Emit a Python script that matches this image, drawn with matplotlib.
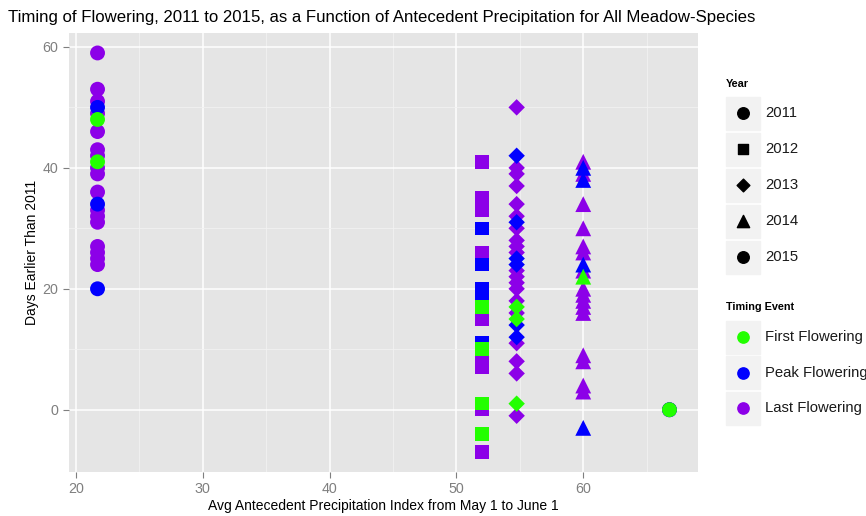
import matplotlib
matplotlib.use('Agg')
import matplotlib.pyplot as plt
from matplotlib.patches import Rectangle

plt.rcParams['font.family'] = ['Liberation Sans', 'DejaVu Sans']

# precipitation index per year (x position of each column)
years = [2011, 2012, 2013, 2014, 2015]
precip_index = [21.7, 52.0, 54.75, 60.0, 66.8]

# days earlier than 2011, per timing event and year
first_flowering = {
    2011: [48, 41],
    2012: [17, 10, 1, -4],
    2013: [17, 15, 1],
    2014: [22],
    2015: [0],
}
peak_flowering = {
    2011: [50, 34, 20],
    2012: [30, 24, 20, 18, 11],
    2013: [42, 31, 25, 24, 14, 12],
    2014: [40, 38, 24, -3],
    2015: [0],
}
last_flowering = {
    2011: [59, 53, 51, 49, 46, 43, 42, 40, 39, 36, 33, 32, 31, 27, 26, 25, 24],
    2012: [41, 35, 33, 26, 16, 15, 8, 7, 0, -7],
    2013: [50, 40, 39, 37, 34, 32, 30, 28, 27, 26, 23, 22, 21, 20, 18, 16, 11, 8, 6, -1],
    2014: [41, 39, 34, 30, 27, 26, 23, 20, 19, 18, 17, 16, 9, 8, 4, 3],
    2015: [0],
}

events = ['First Flowering', 'Peak Flowering', 'Last Flowering']
event_colors = ['#22FF00', '#0000FF', '#8C00E8']
year_markers = ['o', 's', 'D', '^', 'o']
marker_sizes = {'o': 115, 's': 95, 'D': 70, '^': 130}

fig = plt.figure(figsize=(8.66, 5.16), dpi=100)
ax = fig.add_axes([69 / 866, 44 / 516, 629 / 866, 439 / 516])
ax.set_facecolor('#E5E5E5')
for s in ax.spines.values():
    s.set_visible(False)

# draw last first so green ends up on top
for data, color in [(last_flowering, event_colors[2]),
                    (peak_flowering, event_colors[1]),
                    (first_flowering, event_colors[0])]:
    for yr, xv, mk in zip(years, precip_index, year_markers):
        ys = data[yr]
        ax.scatter([xv] * len(ys), ys, marker=mk, s=marker_sizes[mk],
                   color=color, edgecolors='none', zorder=3)

ax.set_xlim(19.45, 69.05)
ax.set_ylim(-10.3, 62.3)
ax.set_xticks([20, 30, 40, 50, 60])
ax.set_yticks([0, 20, 40, 60])
ax.set_xticks([25, 35, 45, 55, 65], minor=True)
ax.set_yticks([10, 30, 50], minor=True)
ax.grid(which='major', color='white', linewidth=1.1)
ax.grid(which='minor', color='#F2F2F2', linewidth=0.6)
ax.set_axisbelow(True)
ax.tick_params(which='major', length=4, color='#7F7F7F', labelcolor='#7F7F7F',
               labelsize=10.3, width=0.8)
ax.tick_params(which='minor', length=0)

ax.set_xlabel('Avg Antecedent Precipitation Index from May 1 to June 1', fontsize=10, labelpad=2)
ax.set_ylabel('Days Earlier Than 2011', fontsize=10, labelpad=3)
fig.text(8 / 866, 1 - 17 / 516,
         'Timing of Flowering, 2011 to 2015, as a Function of Antecedent Precipitation for All Meadow-Species',
         fontsize=12.1, va='center', ha='left')

# legend drawn in pixel coordinates
lg = fig.add_axes([0, 0, 1, 1])
lg.set_xlim(0, 866)
lg.set_ylim(516, 0)
lg.axis('off')
lg.patch.set_visible(False)

lg.text(726, 84, 'Year', fontsize=7.8, fontweight='bold', va='center')
for i, (yr, mk) in enumerate(zip(years, year_markers)):
    cy = 113 + i * 36
    lg.add_patch(Rectangle((726, cy - 16.5), 34, 33, color='#F2F2F2', zorder=1))
    lg.scatter([743], [cy], marker=mk, s=marker_sizes[mk] * 0.6, color='black', zorder=2)
    lg.text(765, cy, str(yr), fontsize=10.7, va='center', color='#1A1A1A')

lg.text(726, 307, 'Timing Event', fontsize=7.8, fontweight='bold', va='center')
for i, (ev, c) in enumerate(zip(events, event_colors)):
    cy = 337 + i * 35.5
    lg.add_patch(Rectangle((726, cy - 16.5), 34, 33, color='#F2F2F2', zorder=1))
    lg.scatter([743], [cy], marker='o', s=66, color=c, zorder=2)
    lg.text(765, cy, ev, fontsize=10.7, va='center', color='#1A1A1A')

fig.savefig('out.png', dpi=100)
